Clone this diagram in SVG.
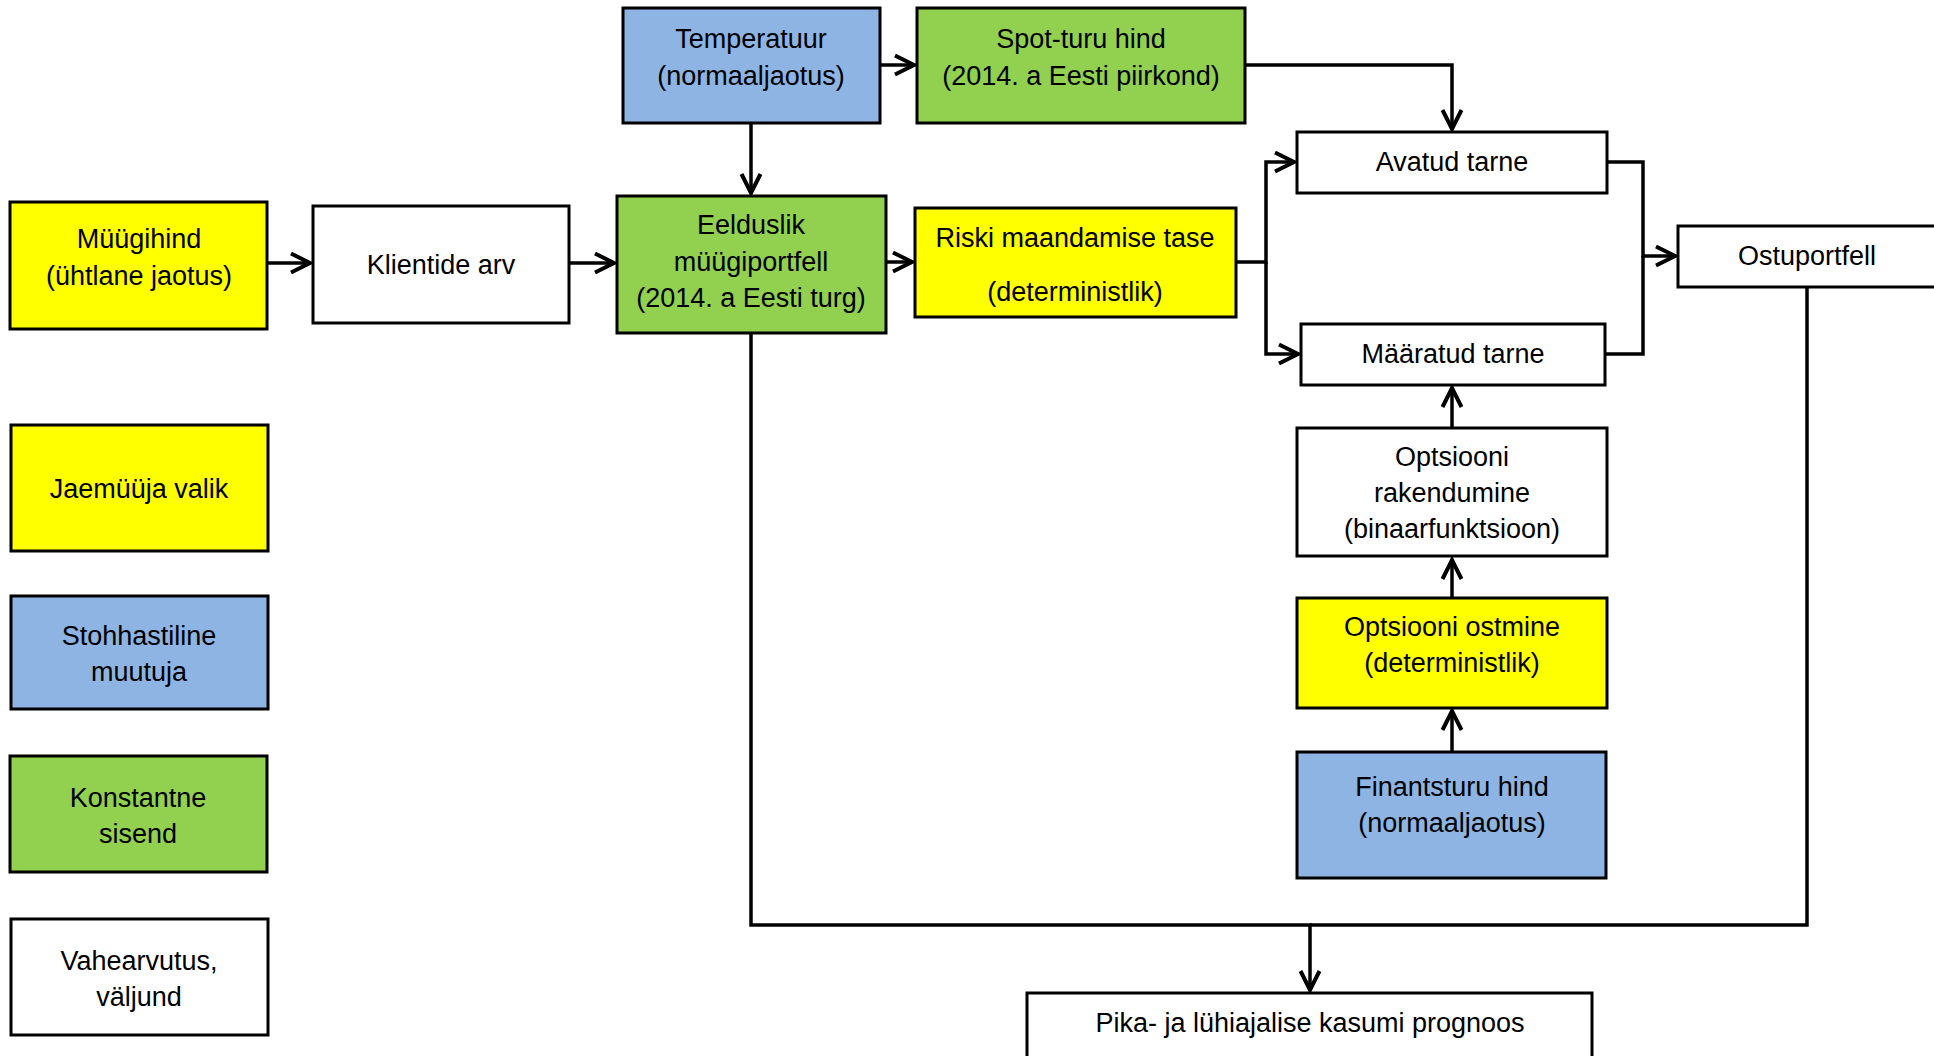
<svg xmlns="http://www.w3.org/2000/svg" width="1934" height="1056" viewBox="0 0 1934 1056">
<style>
.box{stroke:#000;stroke-width:3}
.y{fill:#FFFF00}.b{fill:#8EB4E3}.g{fill:#92D050}.w{fill:#FFFFFF}
text{font-family:"Liberation Sans",Arial,sans-serif;font-size:27px;fill:#000;text-anchor:middle}
.c path{fill:none;stroke:#000;stroke-width:3.5}
</style>
<defs>
<marker id="ah" viewBox="-24 -14 28 28" refX="0" refY="0" markerWidth="28" markerHeight="28" markerUnits="userSpaceOnUse" orient="auto">
<path d="M-19,-9.5 L0,0 L-19,9.5" fill="none" stroke="#000" stroke-width="4"/>
</marker>
</defs>
<rect width="1934" height="1056" fill="#fff"/>
<g id="connectors" class="c">
<path d="M267 263 H310" marker-end="url(#ah)"/>
<path d="M569 263 H614" marker-end="url(#ah)"/>
<path d="M751 123 V193" marker-end="url(#ah)"/>
<path d="M880 65 H914" marker-end="url(#ah)"/>
<path d="M886 262 H912" marker-end="url(#ah)"/>
<path d="M1245 65 H1452 V129" marker-end="url(#ah)"/>
<path d="M1236 262 H1266 V162 H1294" marker-end="url(#ah)"/>
<path d="M1266 262 V354 H1298" marker-end="url(#ah)"/>
<path d="M1607 162 H1643 V256 H1675" marker-end="url(#ah)"/>
<path d="M1605 354 H1643 V256"/>
<path d="M1452 428 V388" marker-end="url(#ah)"/>
<path d="M1452 598 V560" marker-end="url(#ah)"/>
<path d="M1452 752 V711" marker-end="url(#ah)"/>
<path d="M751 333 V925 H1310 V990" marker-end="url(#ah)"/>
<path d="M1807 287 V925 H1310"/>
</g>
<g id="temperatuur"><rect class="box b" x="623" y="8" width="257" height="115"/><text x="751" y="48">Temperatuur</text><text x="751" y="85">(normaaljaotus)</text></g>
<g id="spot"><rect class="box g" x="917" y="8" width="328" height="115"/><text x="1081" y="48">Spot-turu hind</text><text x="1081" y="85">(2014. a Eesti piirkond)</text></g>
<g id="avatud"><rect class="box w" x="1297" y="132" width="310" height="61"/><text x="1452" y="171">Avatud tarne</text></g>
<g id="ostuportfell"><rect class="box w" x="1678" y="226" width="260" height="61"/><text x="1807" y="265">Ostuportfell</text></g>
<g id="myygihind"><rect class="box y" x="10" y="202" width="257" height="127"/><text x="139" y="248">Müügihind</text><text x="139" y="285">(ühtlane jaotus)</text></g>
<g id="klientide"><rect class="box w" x="313" y="206" width="256" height="117"/><text x="441" y="274">Klientide arv</text></g>
<g id="eelduslik"><rect class="box g" x="617" y="196" width="269" height="137"/><text x="751" y="234">Eelduslik</text><text x="751" y="271">müügiportfell</text><text x="751" y="307">(2014. a Eesti turg)</text></g>
<g id="riski"><rect class="box y" x="915" y="208" width="321" height="109"/><text x="1075" y="247">Riski maandamise tase</text><text x="1075" y="301">(deterministlik)</text></g>
<g id="maaratud"><rect class="box w" x="1301" y="324" width="304" height="61"/><text x="1453" y="363">Määratud tarne</text></g>
<g id="rakendumine"><rect class="box w" x="1297" y="428" width="310" height="128"/><text x="1452" y="466">Optsiooni</text><text x="1452" y="502">rakendumine</text><text x="1452" y="538">(binaarfunktsioon)</text></g>
<g id="ostmine"><rect class="box y" x="1297" y="598" width="310" height="110"/><text x="1452" y="636">Optsiooni ostmine</text><text x="1452" y="672">(deterministlik)</text></g>
<g id="finantsturu"><rect class="box b" x="1297" y="752" width="309" height="126"/><text x="1452" y="796">Finantsturu hind</text><text x="1452" y="832">(normaaljaotus)</text></g>
<g id="pika"><rect class="box w" x="1027" y="993" width="565" height="80"/><text x="1310" y="1032">Pika- ja lühiajalise kasumi prognoos</text></g>
<g id="jaemyyja"><rect class="box y" x="11" y="425" width="257" height="126"/><text x="139" y="498">Jaemüüja valik</text></g>
<g id="stohhastiline"><rect class="box b" x="11" y="596" width="257" height="113"/><text x="139" y="645">Stohhastiline</text><text x="139" y="681">muutuja</text></g>
<g id="konstantne"><rect class="box g" x="10" y="756" width="257" height="116"/><text x="138" y="807">Konstantne</text><text x="138" y="843">sisend</text></g>
<g id="vahearvutus"><rect class="box w" x="11" y="919" width="257" height="116"/><text x="139" y="970">Vahearvutus,</text><text x="139" y="1006">väljund</text></g>
</svg>
